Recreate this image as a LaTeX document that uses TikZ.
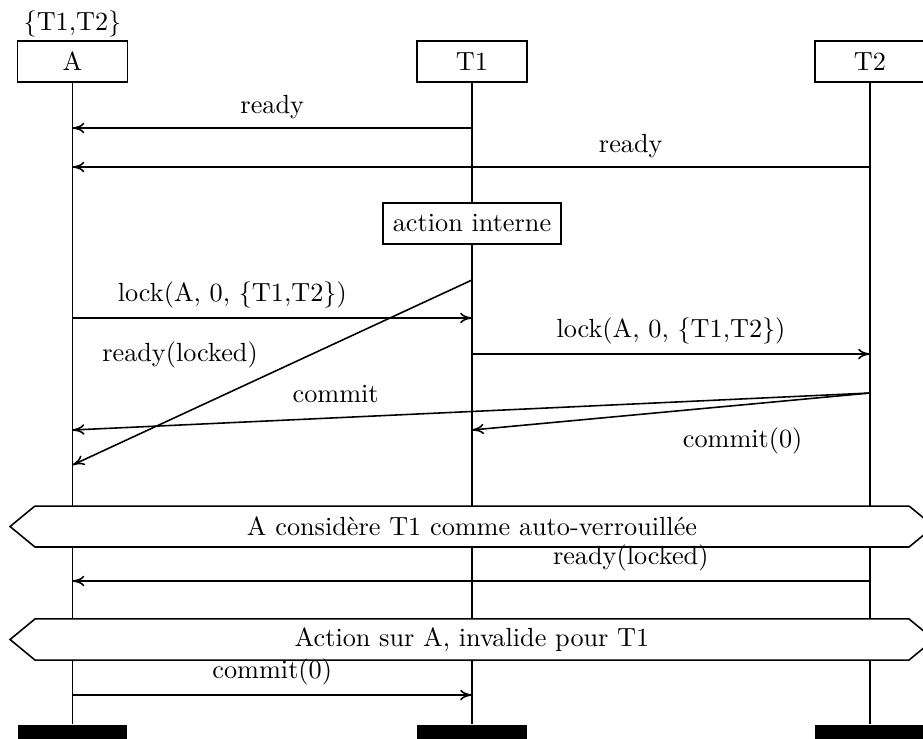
\documentclass[tikz,border=0pt]{standalone}
\usepackage{tikz}
\usetikzlibrary{shapes, arrows.meta, positioning, calc}
\tikzset{
  instbox/.style={draw, fill=white, minimum width=41.9pt, minimum height=15.6pt, inner sep=2pt},
  footbar/.style={fill=black, minimum width=41.9pt, minimum height=5.4pt, inner sep=0pt, anchor=north},
  actbox/.style={draw, fill=white, minimum width=68pt, minimum height=15.6pt},
  condbox/.style={signal, signal to=west and east, signal pointer angle=79, draw, fill=white, minimum width=352pt, minimum height=15.6pt},
  msg/.style={-{To[length=4.5pt, width=4pt]}},
}

\begin{document}
\begin{tikzpicture}[x=0.381pt, y=-0.381pt, line width=0.6pt]
  \useasboundingbox (0,0) rectangle (923,738);
  % instances
  \foreach \n/\x in {A/72.5, T1/472, T2/870} {
    \node[footbar] (\n-end) at (\x,724) {};
    \node[instbox] (\n) at (\x,61.5) {\n};
    \draw (\n) -- (\n-end);
  }
  \node[above=0pt of A, inner sep=1pt] (aset) {\{T1,T2\}};
  \node[actbox] (act) at (472,223.5) {action interne};
  % messages
  \draw[msg] (T1 |- 0,128) -- (A |- 0,128) node[midway, above] (m1) {ready};
  \draw[msg] (T2 |- 0,167) -- (A |- 0,167) node[pos=0.3, above] (m2) {ready};
  \draw[msg] (A |- 0,318) -- (T1 |- 0,318) node[pos=0.4, above] (m3) {lock(A, 0, \{T1,T2\})};
  \draw[msg] (T1 |- 0,280) -- (A |- 0,465);
  \node (m4) at (180,355) {ready(locked)};
  \draw[msg] (T1 |- 0,354) -- (T2 |- 0,354) node[midway, above] (m5) {lock(A, 0, \{T1,T2\})};
  \draw[msg] (T2 |- 0,393) -- (A |- 0,430) node[pos=0.67, above=2pt] (m6) {commit};
  \draw[msg] (T2 |- 0,393) -- (T1 |- 0,430) node[pos=0.32, below=5pt] (m7) {commit(0)};
  \node[condbox] (c1) at (472,526.5) {A considère T1 comme auto-verrouillée};
  \draw[msg] (T2 |- 0,581) -- (A |- 0,581) node[pos=0.3, above] (m8) {ready(locked)};
  \node[condbox] (c2) at (472,639.5) {Action sur A, invalide pour T1};
  \draw[msg] (A |- 0,695) -- (T1 |- 0,695) node[midway, above] (m9) {commit(0)};
\end{tikzpicture}
\end{document}
